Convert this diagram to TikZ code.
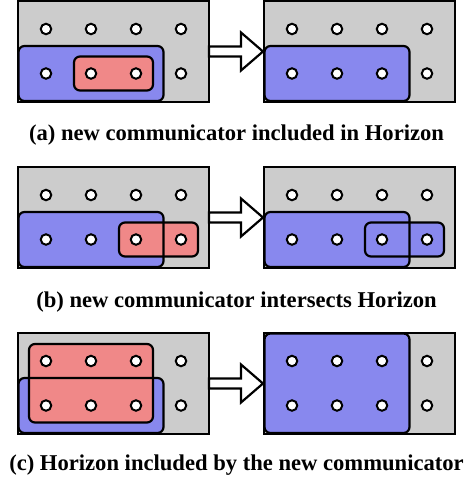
\documentclass[tikz,border=0pt]{standalone}
\usepackage{fontspec}
\setmainfont{Liberation Serif}
\usetikzlibrary{calc,fit,positioning}

\definecolor{rankgray}{RGB}{204,204,204}
\definecolor{horblue}{RGB}{136,136,238}
\definecolor{commred}{RGB}{240,136,136}

\pgfdeclarelayer{ranks}
\pgfdeclarelayer{groups}
\pgfsetlayers{ranks,groups,main}

\tikzset{
  rankbox/.style={draw,fill=rankgray,line width=2.2pt,minimum width=191pt,minimum height=101pt,inner sep=0pt,outer sep=0pt},
  proc/.style={circle,draw,fill=white,line width=2pt,minimum size=10.5pt,inner sep=0pt},
  horizon/.style={fill=horblue,rounded corners=6pt,inner sep=27.5pt},
  hline/.style={draw,line width=2.2pt,rounded corners=6pt,inner sep=27.5pt},
  newcomm/.style={draw,fill=#1,line width=2.2pt,rounded corners=6pt,inner sep=17pt},
  newcomm/.default=commred,
  caption/.style={font=\bfseries\fontsize{22.6}{26}\selectfont,inner sep=0pt},
  blockarrow/.style={draw,fill=white,line width=2.2pt,line join=miter,
    to path={let \p1=(\tikztostart), \p2=(\tikztotarget) in
      (\x1,\y1-5pt) -- (\x2-23pt,\y1-5pt) -- (\x2-23pt,\y1-19pt) -- (\x2-1pt,\y1)
      -- (\x2-23pt,\y1+19pt) -- (\x2-23pt,\y1+5pt) -- (\x1,\y1+5pt) -- cycle}}
}

\begin{document}
\begin{tikzpicture}[x=1pt,y=-1pt]
\useasboundingbox (0,0) rectangle (471,485);

% process grids
\begin{pgfonlayer}{ranks}
  \node[rankbox] (aL) at (113.5,51.5) {};
  \node[rankbox,right=55pt of aL] (aR) {};
  \node[rankbox] (bL) at (113.5,217.5) {};
  \node[rankbox,right=55pt of bL] (bR) {};
  \node[rankbox] (cL) at (113.5,383.5) {};
  \node[rankbox,right=55pt of cL] (cR) {};
\end{pgfonlayer}

\foreach \b in {aL,aR,bL,bR,cL,cR}
  \foreach \c in {1,...,4}
    \foreach \r in {1,2}
      \node[proc] (\b-\c-\r) at ($(\b.north west)+({28+45*(\c-1)},{28+44.5*(\r-1)})$) {};

% (a)
\begin{pgfonlayer}{groups}
  \node[horizon,hline,fit=(aL-1-2.center)(aL-3-2.center)] (hA) {};
  \node[newcomm,fit=(aL-2-2.center)(aL-3-2.center)] (nA) {};
  \node[horizon,hline,fit=(aR-1-2.center)(aR-3-2.center)] (hA2) {};
\end{pgfonlayer}
\draw[blockarrow] (aL.east) to (aR.west);
\node[caption] (capA) at ($(aL.south)!0.5!(aR.south)+(0,33)$) {(a) new communicator included in Horizon};

% (b)
\begin{pgfonlayer}{groups}
  \node[horizon,fit=(bL-1-2.center)(bL-3-2.center)] (hB) {};
  \node[newcomm,fit=(bL-3-2.center)(bL-4-2.center)] (nB) {};
  \node[hline,fit=(bL-1-2.center)(bL-3-2.center)] {};
  \node[horizon,fit=(bR-1-2.center)(bR-3-2.center)] (hB2) {};
  \node[newcomm=horblue,fit=(bR-3-2.center)(bR-4-2.center)] (nB2) {};
  \node[hline,fit=(bR-1-2.center)(bR-3-2.center)] {};
\end{pgfonlayer}
\draw[blockarrow] (bL.east) to (bR.west);
\node[caption] (capB) at ($(bL.south)!0.5!(bR.south)+(0,34)$) {(b) new communicator intersects Horizon};

% (c)
\begin{pgfonlayer}{groups}
  \node[horizon,fit=(cL-1-2.center)(cL-3-2.center)] (hC) {};
  \node[newcomm,fit=(cL-1-1.center)(cL-3-2.center)] (nC) {};
  \node[hline,fit=(cL-1-2.center)(cL-3-2.center)] {};
  \node[horizon,hline,fit=(cR-1-1.center)(cR-3-2.center)] (hC2) {};
\end{pgfonlayer}
\draw[blockarrow] (cL.east) to (cR.west);
\node[caption] (capC) at ($(cL.south)!0.5!(cR.south)+(0,31)$) {(c) Horizon included by the new communicator};

\end{tikzpicture}
\end{document}
